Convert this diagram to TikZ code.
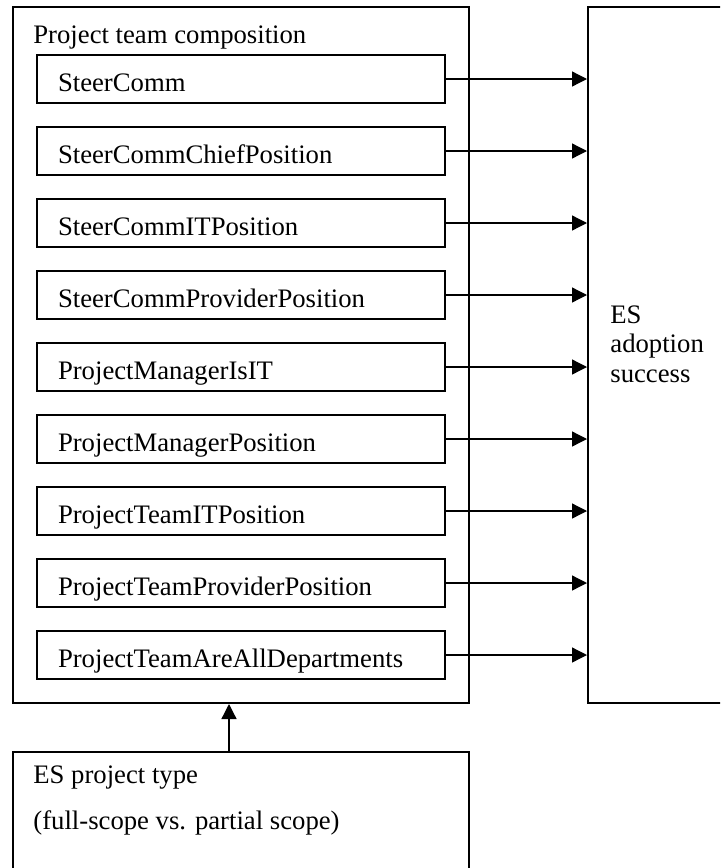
\documentclass[tikz,border=0pt]{standalone}
\usepackage{fontspec}
\setmainfont{Liberation Serif}
\usetikzlibrary{arrows.meta,positioning}
\tikzset{
  line/.style={-{Triangle[length=7.5pt,width=7.5pt]}, line width=0.65pt},
  frame/.style={draw, line width=1pt, inner sep=0pt},
  varbox/.style={draw, line width=0.65pt, align=left, text width=183pt, inner xsep=10.5pt,
    minimum width=204pt, minimum height=24pt, text height=12.5pt, text depth=0pt},
  txt/.style={anchor=base west, inner sep=0pt, align=left}
}

\begin{document}
\begin{tikzpicture}[x=0.5pt, y=-0.5pt, font=\fontsize{13.35pt}{14.75pt}\selectfont]
  \clip (0,0) rectangle (720,868);
  \node[frame, minimum width=228pt, minimum height=348pt] (team) at (241,355) {};
  \node[txt] (teamlbl) at (33,43) {Project team composition};
  \node[frame, minimum width=90pt, minimum height=348pt] (success) at (678,355) {};
  % base anchor sits on the last line
  \node[txt] (successlbl) at (610,382) {ES\\adoption\\success};
  \node[frame, minimum width=228pt, minimum height=80pt] (type) at (241,832) {};
  \node[txt] (typelbl) at (33,829) {ES project type\\[7.8pt](full-scope vs. partial scope)};

  \foreach \name [count=\i] in {SteerComm, SteerCommChiefPosition, SteerCommITPosition,
      SteerCommProviderPosition, ProjectManagerIsIT, ProjectManagerPosition,
      ProjectTeamITPosition, ProjectTeamProviderPosition, ProjectTeamAreAllDepartments} {
    \node[varbox] (v\i) at (241,{79+72*(\i-1)}) {\name};
    \draw[line] (v\i.east) -- (v\i.east -| success.west);
  }

  \draw[line] ([xshift=-6pt]type.north) -- ([xshift=-6pt]team.south);
\end{tikzpicture}
\end{document}
